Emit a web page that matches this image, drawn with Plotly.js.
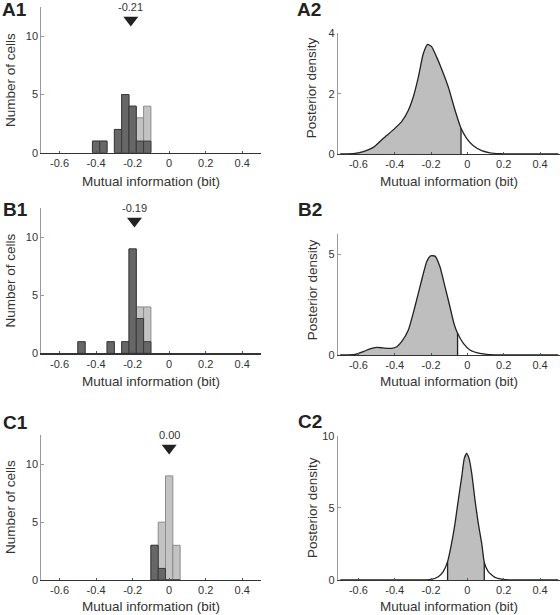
<!DOCTYPE html>
<html><head><meta charset="utf-8">
<script src="https://cdn.plot.ly/plotly-3.0.1.min.js"></script>
<style>html,body{margin:0;padding:0;background:#fff}#chart{width:560px;height:615px}</style>
</head><body><div id="chart"></div>
<script>
// ---------- data ----------
const xTickVals = [-0.6, -0.4, -0.2, 0, 0.2, 0.4];
const xTickText = ['-0.6', '-0.4', '-0.2', '0', '0.2', '0.4'];
const binWidth = 0.04;

// Histograms (bin centres, all cells, subset)
const a1Bins = [-0.40, -0.36, -0.28, -0.24, -0.20, -0.16, -0.12];
const a1All  = [1, 1, 2, 5, 4, 3, 4];
const a1Sub  = [1, 1, 2, 5, 4, 1, 1];
const a1Median = -0.21, a1MedianLabel = '-0.21';

const b1Bins = [-0.48, -0.32, -0.24, -0.20, -0.16, -0.12];
const b1All  = [1, 1, 1, 9, 4, 4];
const b1Sub  = [1, 1, 1, 9, 3, 1];
const b1Median = -0.19, b1MedianLabel = '-0.19';

const c1Bins = [-0.08, -0.04, 0.00, 0.04];
const c1All  = [3, 5, 9, 3];
const c1Sub  = [3, 1, 0, 0];
const c1Median = 0.00, c1MedianLabel = '0.00';

// Posterior densities
const a2X = [-0.70,-0.683,-0.619,-0.573,-0.518,-0.463,-0.408,-0.362,-0.325,-0.298,-0.270,-0.243,-0.219,-0.197,-0.169,-0.142,-0.105,-0.068,-0.035,-0.004,0.033,0.079,0.124,0.18,0.25,0.5];
const a2Y = [0,0,0.02,0.08,0.22,0.52,0.80,1.07,1.45,1.89,2.55,3.32,3.63,3.56,3.21,2.82,2.22,1.45,0.85,0.52,0.27,0.11,0.04,0.01,0,0];
const a2Lo = -0.70, a2Hi = -0.035;

const b2X = [-0.70,-0.683,-0.619,-0.573,-0.536,-0.499,-0.463,-0.417,-0.389,-0.362,-0.325,-0.289,-0.252,-0.224,-0.202,-0.178,-0.151,-0.123,-0.096,-0.074,-0.054,-0.022,0.014,0.069,0.124,0.2,0.5];
const b2Y = [0,0,0.03,0.17,0.31,0.38,0.35,0.33,0.41,0.66,1.24,2.40,3.72,4.64,4.93,4.92,4.39,3.39,2.40,1.57,1.08,0.58,0.25,0.08,0.02,0,0];
const b2Lo = -0.70, b2Hi = -0.054;

const c2X = [-0.70,-0.3,-0.206,-0.160,-0.133,-0.109,-0.087,-0.068,-0.050,-0.031,-0.017,-0.004,0.009,0.024,0.042,0.060,0.079,0.093,0.115,0.152,0.207,0.3,0.5];
const c2Y = [0,0,0.02,0.23,0.58,1.27,2.54,3.93,5.54,7.16,8.43,8.78,8.43,7.39,5.54,3.93,2.54,1.22,0.58,0.18,0.02,0,0];
const c2Lo = -0.109, c2Hi = 0.093;

// ---------- helpers ----------
const W = 560, H = 615;
const px = v => v / W;
const py = v => 1 - v / H;
const FONT = 'Liberation Sans, Arial, sans-serif';
const DARK = '#222';

function hist(n, bins, all, sub) {
  return [
    {type:'bar', x:bins, y:all, width:binWidth, xaxis:'x'+n, yaxis:'y'+n,
     marker:{color:'#c3c3c3', line:{color:'#8c8c8c', width:1}}, hoverinfo:'skip', showlegend:false},
    {type:'bar', x:bins, y:sub, width:binWidth, xaxis:'x'+n, yaxis:'y'+n,
     marker:{color:'#676767', line:{color:'#3a3a3a', width:1}}, hoverinfo:'skip', showlegend:false}
  ];
}
function medianMarker(n, m) {
  return {type:'scatter', mode:'markers', x:[m], y:[11.4], xaxis:'x'+n, yaxis:'y'+n, cliponaxis:false,
    marker:{symbol:'triangle-down', size:13, color:DARK, line:{width:0}}, hoverinfo:'skip', showlegend:false};
}
function density(n, xs, ys, lo, hi) {
  const fx = [], fy = [];
  xs.forEach((x, i) => { if (x >= lo - 1e-9 && x <= hi + 1e-9) { fx.push(x); fy.push(ys[i]); } });
  return [
    {type:'scatter', mode:'lines', x:fx, y:fy, fill:'tozeroy', fillcolor:'#bebebe',
     line:{width:0, shape:'spline', smoothing:0.5}, xaxis:'x'+n, yaxis:'y'+n, hoverinfo:'skip', showlegend:false},
    {type:'scatter', mode:'lines', x:xs, y:ys, line:{color:DARK, width:1.3, shape:'spline', smoothing:0.5},
     xaxis:'x'+n, yaxis:'y'+n, hoverinfo:'skip', showlegend:false}
  ];
}
function valAt(xs, ys, x) {
  const i = xs.indexOf(x);
  return i >= 0 ? ys[i] : 0;
}
function cutLine(n, xs, ys, x) {
  return {type:'line', xref:'x'+n, yref:'y'+n, x0:x, x1:x, y0:0, y1:valAt(xs, ys, x),
    line:{color:DARK, width:1.3}};
}

const data = [
  ...hist(1, a1Bins, a1All, a1Sub), medianMarker(1, a1Median),
  ...density(2, a2X, a2Y, a2Lo, a2Hi),
  ...hist(3, b1Bins, b1All, b1Sub), medianMarker(3, b1Median),
  ...density(4, b2X, b2Y, b2Lo, b2Hi),
  ...hist(5, c1Bins, c1All, c1Sub), medianMarker(5, c1Median),
  ...density(6, c2X, c2Y, c2Lo, c2Hi)
];

function xAxis(dom, anchor, range) {
  return {domain:dom, anchor:anchor, range:range, tickvals:xTickVals, ticktext:xTickText,
    ticks:'inside', ticklen:2, tickcolor:'#555', showline:true, linecolor:'#333', linewidth:1.2,
    showgrid:false, zeroline:false, fixedrange:true, automargin:false,
    tickfont:{family:FONT, size:11, color:'#333'}};
}
function yAxis(dom, anchor, range, tv) {
  return {domain:dom, anchor:anchor, range:range, tickvals:tv, ticktext:tv.map(String),
    ticks:'inside', ticklen:3, tickcolor:'#999', showline:true, linecolor:'#9a9a9a', linewidth:1,
    showgrid:false, zeroline:false, fixedrange:true, automargin:false,
    tickfont:{family:FONT, size:11, color:'#333'}};
}

const LX = [px(41.3), px(260.5)];
const RX = [px(337.7), px(560)];
const LR = [-0.7, 0.5];
const RR = [-0.714, 0.51];

const layout = {
  width:W, height:H, margin:{l:0, r:0, t:0, b:0}, paper_bgcolor:'#fff', plot_bgcolor:'rgba(0,0,0,0)',
  barmode:'overlay', showlegend:false, font:{family:FONT, color:'#333'},
  xaxis:  xAxis(LX, 'y',  LR), yaxis:  yAxis([py(152.7), py(7.3)],   'x',  [0, 12.5], [0, 5, 10]),
  xaxis2: xAxis(RX, 'y2', RR), yaxis2: yAxis([py(154),   py(33.3)],  'x2', [0, 4],    [0, 2, 4]),
  xaxis3: xAxis(LX, 'y3', LR), yaxis3: yAxis([py(353.3), py(208.3)], 'x3', [0, 12.5], [0, 5, 10]),
  xaxis4: xAxis(RX, 'y4', RR), yaxis4: yAxis([py(355),   py(234.4)], 'x4', [0, 6],    [0, 5]),
  xaxis5: xAxis(LX, 'y5', LR), yaxis5: yAxis([py(580),   py(435.4)], 'x5', [0, 12.5], [0, 5, 10]),
  xaxis6: xAxis(RX, 'y6', RR), yaxis6: yAxis([py(580),   py(435.7)], 'x6', [0, 10],   [0, 5, 10]),
  shapes:[
    cutLine(2, a2X, a2Y, a2Hi),
    cutLine(4, b2X, b2Y, b2Hi),
    cutLine(6, c2X, c2Y, c2Lo),
    cutLine(6, c2X, c2Y, c2Hi)
  ],
  annotations:[]
};

const ann = layout.annotations;
// median labels
[[1, a1Median, a1MedianLabel], [3, b1Median, b1MedianLabel], [5, c1Median, c1MedianLabel]].forEach(([n, m, t]) => {
  ann.push({xref:'x'+n, yref:'y'+n, x:m, y:12.5, text:t, showarrow:false, xanchor:'center', yanchor:'middle',
    font:{family:FONT, size:11, color:'#333'}});
});
// panel letters
[['A1', 0, 9.5], ['A2', 295, 10], ['B1', 0.5, 209.5], ['B2', 296, 209.5], ['C1', 0.5, 422.5], ['C2', 296, 421]].forEach(([t, x, y]) => {
  ann.push({xref:'paper', yref:'paper', x:px(x), y:py(y), text:'<b>'+t+'</b>', showarrow:false,
    xanchor:'left', yanchor:'middle', font:{family:FONT, size:19, color:'#222'}});
});
// x titles
const xTitle = 'Mutual information (bit)';
[[150.9, 181], [448.8, 181], [150.9, 381], [448.8, 381.5], [150.9, 606.5], [448.8, 606.5]].forEach(([x, y]) => {
  ann.push({xref:'paper', yref:'paper', x:px(x), y:py(y), text:xTitle, showarrow:false,
    xanchor:'center', yanchor:'middle', font:{family:FONT, size:13.5, color:'#333'}});
});
// y titles
[['Number of cells', 10, 80], ['Posterior density', 312.3, 88], ['Number of cells', 10, 280.5],
 ['Posterior density', 312.3, 290], ['Number of cells', 10, 507], ['Posterior density', 312.3, 507.7]].forEach(([t, x, y]) => {
  ann.push({xref:'paper', yref:'paper', x:px(x), y:py(y), text:t, showarrow:false, textangle:-90,
    xanchor:'center', yanchor:'middle', font:{family:FONT, size:13.5, color:'#333'}});
});

Plotly.newPlot('chart', data, layout, {staticPlot:true, displayModeBar:false});
</script></body></html>
